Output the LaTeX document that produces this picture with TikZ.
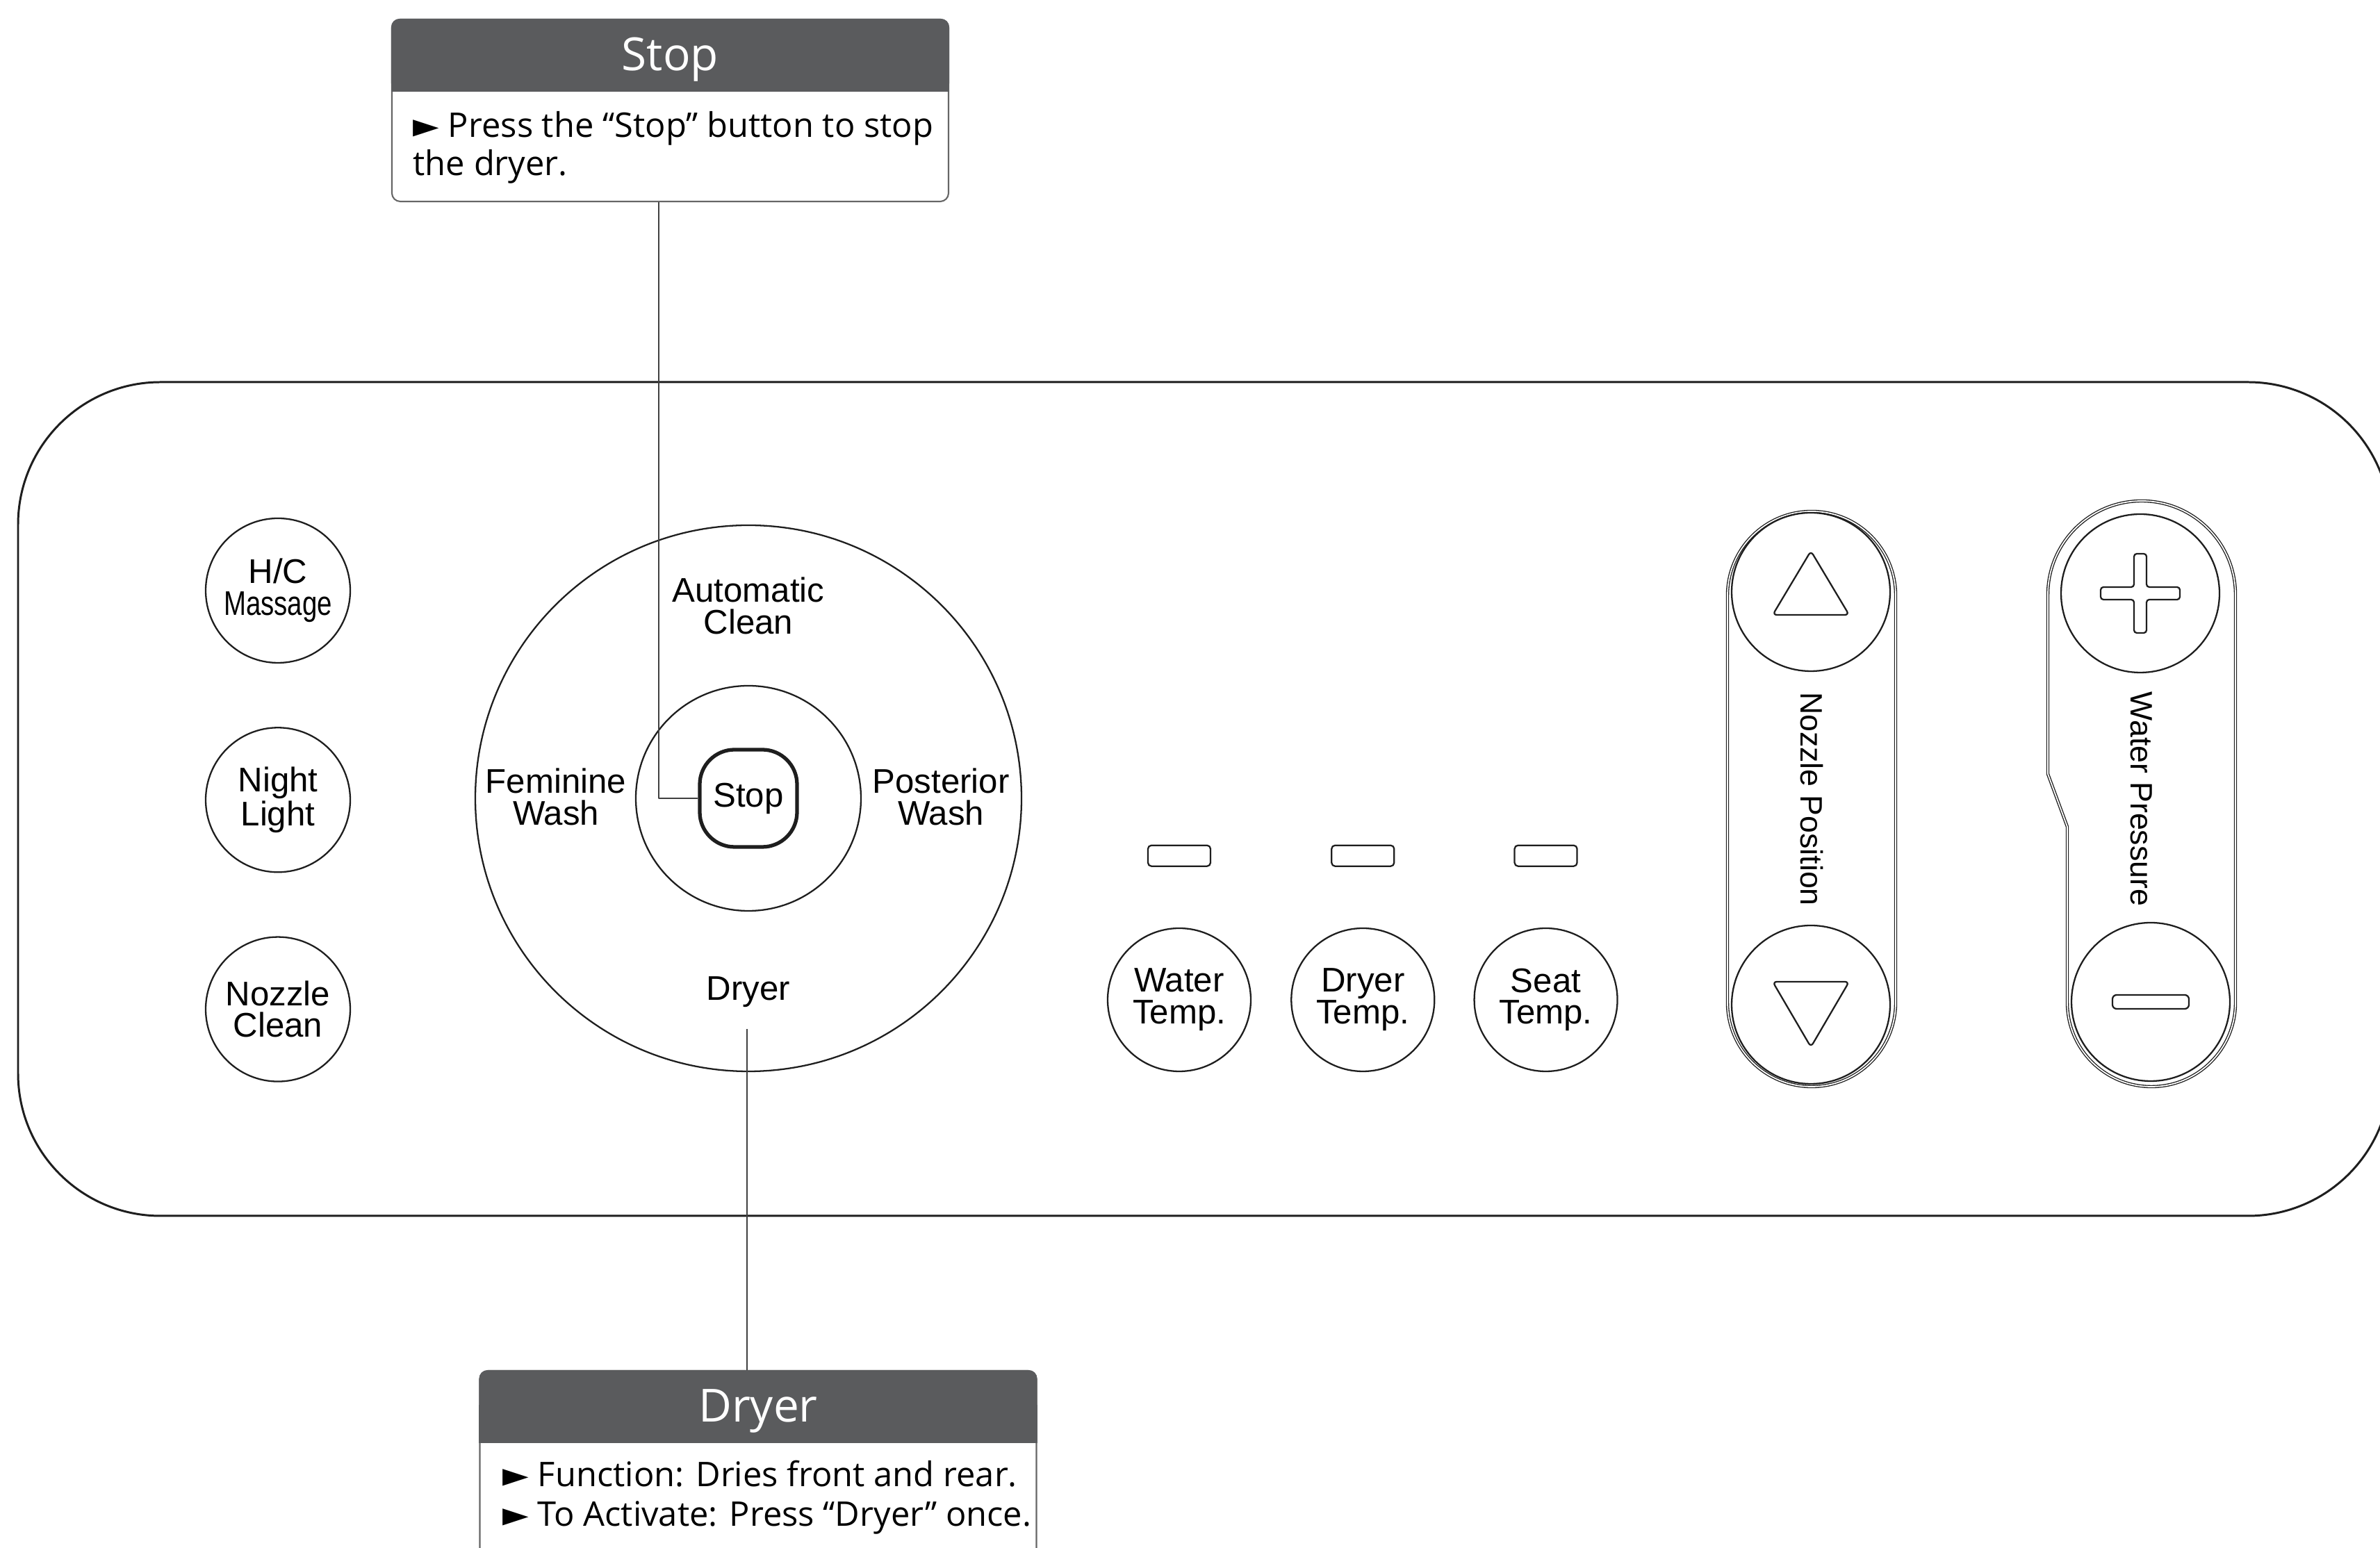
\documentclass[tikz,border=0pt]{standalone}
\usepackage{fontspec}
\usepackage{graphicx}
\setmainfont{Liberation Sans}
\newfontfamily\callfont{Open Sans}
\newfontfamily\symfont{DejaVu Sans}
\usetikzlibrary{positioning, calc}
\definecolor{headgray}{HTML}{5A5B5D}
\definecolor{inkgray}{HTML}{1E1E1E}
\newcommand{\bul}{{\symfont ►}}

\begin{document}
\begin{tikzpicture}[line join=round,
  panel/.style={draw=inkgray, line width=0.85pt},
  btn/.style={circle, draw=inkgray, line width=0.65pt, minimum size=2.08cm, inner sep=0pt,
              align=center, font=\fontsize{14}{13}\selectfont},
  lbl/.style={align=center, inner sep=1pt, font=\fontsize{14}{13}\selectfont},
  led/.style={draw=inkgray, line width=0.65pt, rounded corners=0.05cm, minimum width=0.9cm,
              minimum height=0.3cm, inner sep=0pt},
  ring/.style={circle, draw=inkgray, line width=0.65pt, inner sep=0pt},
  pill/.style={draw=inkgray, double, double distance=0.5pt, line width=0.38pt},
  icon/.style={draw=inkgray, line width=0.65pt, rounded corners=0.06cm},
  callbox/.style={draw=gray!80!black, line width=0.6pt, rounded corners=0.12cm,
                  minimum width=8.01cm, inner sep=0pt},
  calltitle/.style={text=white, inner sep=0pt, font=\callfont\fontsize{18.7}{18.7}\selectfont},
  calltext/.style={anchor=base west, inner sep=0pt, font=\callfont\fontsize{13.9}{15}\selectfont},
  lead/.style={draw=inkgray!85, line width=0.5pt}]

  \useasboundingbox (0,0) rectangle (34.25,22.28);
  \clip (0,0) rectangle (34.25,22.28);

  \draw[panel, rounded corners=2.05cm] (0.26,4.78) rectangle (34.40,16.78);

  % left column
  \node[btn] (hcm) at (4.00,13.78) {H/C\\\scalebox{0.78}[1]{Massage}};
  \node[btn, below=0.91cm of hcm]   (night)   {Night\\Light};
  \node[btn, below=0.91cm of night] (nzclean) {Nozzle\\Clean};

  % wash dial
  \node[ring, minimum size=7.86cm] (outer) at (10.77,10.79) {};
  \node[ring, minimum size=3.24cm] (inner) at (outer) {};
  \node[lbl, draw=inkgray, line width=1.5pt, rounded corners=0.5cm, minimum size=1.40cm] (stopbtn) at (outer) {Stop};
  \node[lbl] (autoclean) at (10.77,13.56) {Automatic\\Clean};
  \node[lbl] (femwash)   at (8.00,10.81)  {Feminine\\Wash};
  \node[lbl] (postwash)  at (13.54,10.81) {Posterior\\Wash};
  \node[lbl] (dryerlbl)  at (10.77,8.00)  {Dryer};

  % temperature keys
  \node[btn, minimum size=2.06cm] (wtemp) at (16.97,7.89) {Water\\Temp.};
  \node[btn, minimum size=2.06cm, right=0.56cm of wtemp] (dtemp) {Dryer\\Temp.};
  \node[btn, minimum size=2.06cm, right=0.55cm of dtemp] (stemp) {Seat\\Temp.};
  \node[led, above=0.87cm of wtemp] (wled) {};
  \node[led, above=0.87cm of dtemp] (dled) {};
  \node[led, above=0.87cm of stemp] (sled) {};

  % nozzle position
  \node[pill, rounded corners=1.21cm, minimum width=2.42cm, minimum height=8.28cm] (nozpill) at (26.07,10.78) {};
  \node[ring, minimum size=2.28cm] (nozup)   at (26.06,13.76) {};
  \node[ring, minimum size=2.28cm] (nozdown) at (26.06,7.82) {};
  \draw[icon] ($(nozup)+(-0.55,-0.33)$) -- ++(1.10,0) -- ++(-0.55,0.92) -- cycle;
  \draw[icon] ($(nozdown)+(-0.55,0.33)$) -- ++(1.10,0) -- ++(-0.55,-0.94) -- cycle;
  \node[lbl, rotate=-90, font=\fontsize{12.7}{13}\selectfont] (nozlbl) at (nozpill) {Nozzle Position};

  % water pressure
  \draw[pill] (32.17,13.72) arc[start angle=0, end angle=180, radius=1.35]
    -- (29.47,11.14) -- (29.75,10.38) -- (29.75,7.85)
    arc[start angle=180, end angle=360, radius=1.21] -- cycle;
  \node[ring, minimum size=2.28cm] (plusbtn)  at (30.80,13.74) {};
  \node[ring, minimum size=2.28cm] (minusbtn) at (30.95,7.86) {};
  \draw[icon, rounded corners=0.04cm] ($(plusbtn)+(-0.09,0.57)$) -- ++(0.18,0) -- ++(0,-0.48)
    -- ++(0.48,0) -- ++(0,-0.18) -- ++(-0.48,0) -- ++(0,-0.48) -- ++(-0.18,0)
    -- ++(0,0.48) -- ++(-0.48,0) -- ++(0,0.18) -- ++(0.48,0) -- cycle;
  \draw[icon] ($(minusbtn)+(-0.55,-0.10)$) rectangle ++(1.10,0.20);
  \node[lbl, rotate=-90, font=\fontsize{12.7}{13}\selectfont] (wplbl) at (30.82,10.78) {Water Pressure};

  % callouts
  \node[callbox, minimum height=2.62cm] (stopbox) at (9.645,20.69) {};
  \fill[headgray, rounded corners=0.12cm] (stopbox.north west) rectangle ($(stopbox.north east)+(0,-1.05)$);
  \fill[headgray] ($(stopbox.north west)+(0,-0.5)$) rectangle ($(stopbox.north east)+(0,-1.05)$);
  \node[calltitle] (stoptitle) at ($(stopbox.north)+(0,-0.585)$) {Stop};
  \node[calltext] (stopline1) at (5.94,20.30) {\bul\ Press the “Stop” button to stop};
  \node[calltext] (stopline2) at (5.94,19.75) {the dryer.};

  \node[callbox, minimum height=3.2cm, anchor=north] (drybox) at (10.91,2.56) {};
  \fill[headgray, rounded corners=0.12cm] (drybox.north west) rectangle ($(drybox.north east)+(0,-1.05)$);
  \fill[headgray] ($(drybox.north west)+(0,-0.5)$) rectangle ($(drybox.north east)+(0,-1.05)$);
  \node[calltitle] (drytitle) at ($(drybox.north)+(0,-0.585)$) {Dryer};
  \node[calltext] (dryline1) at (7.23,0.88) {\bul\ Function: Dries front and rear.};
  \node[calltext] (dryline2) at (7.23,0.31) {\bul\ To Activate: Press “Dryer” once.};

  \coordinate (drytop) at (10.75,7.47);
  \draw[lead] ([xshift=-0.165cm]stopbox.south) |- (stopbtn.west);
  \draw[lead] (drytop) -- (drytop |- drybox.north);
\end{tikzpicture}
\end{document}
